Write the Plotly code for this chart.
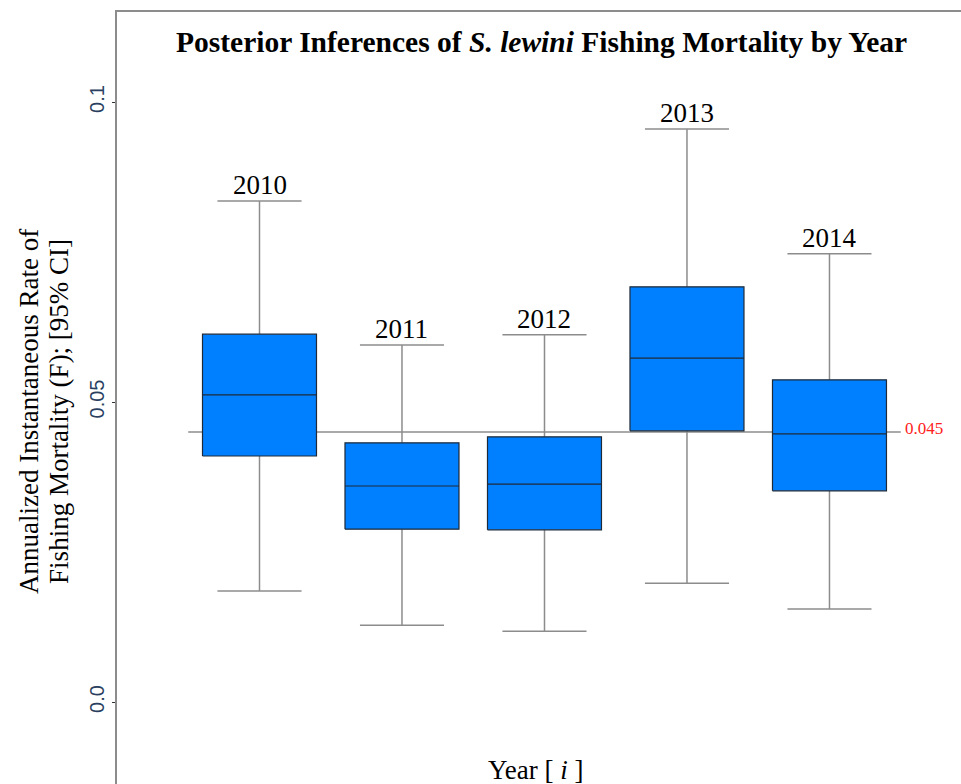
import plotly.graph_objects as go

years = ["2010", "2011", "2012", "2013", "2014"]
lower = [0.0185, 0.0128, 0.0118, 0.0198, 0.0155]
q1 = [0.0410, 0.0288, 0.0287, 0.0452, 0.0352]
median = [0.0512, 0.0360, 0.0363, 0.0573, 0.0447]
q3 = [0.0613, 0.0432, 0.0442, 0.0692, 0.0537]
upper = [0.0835, 0.0595, 0.0612, 0.0955, 0.0747]
ref_value = 0.045

positions = list(range(1, len(years) + 1))
box_half = 0.4
cap_half = 0.295

SERIF = "Liberation Serif, Times New Roman, serif"
SANS = "Liberation Sans, Arial, sans-serif"
BLUE = "#0080ff"
GRAY = "#8c8c8c"
DARK = "#1e2a38"

fig = go.Figure()

# reference line (behind everything)
fig.add_trace(go.Scatter(
    x=[positions[0] - 0.5, positions[-1] + 0.5], y=[ref_value, ref_value],
    mode="lines", line=dict(color=GRAY, width=1.5), hoverinfo="skip", showlegend=False))

for p, lo, a, m, b, hi in zip(positions, lower, q1, median, q3, upper):
    # whiskers
    fig.add_trace(go.Scatter(
        x=[p, p, None, p, p], y=[b, hi, None, lo, a],
        mode="lines", line=dict(color=GRAY, width=1.5), hoverinfo="skip", showlegend=False))
    # caps
    fig.add_trace(go.Scatter(
        x=[p - cap_half, p + cap_half, None, p - cap_half, p + cap_half],
        y=[hi, hi, None, lo, lo],
        mode="lines", line=dict(color=GRAY, width=1.5), hoverinfo="skip", showlegend=False))
    # box
    fig.add_trace(go.Scatter(
        x=[p - box_half, p + box_half, p + box_half, p - box_half, p - box_half],
        y=[a, a, b, b, a],
        mode="lines", fill="toself", fillcolor=BLUE,
        line=dict(color=DARK, width=1.2), hoverinfo="skip", showlegend=False))
    # median
    fig.add_trace(go.Scatter(
        x=[p - box_half, p + box_half], y=[m, m],
        mode="lines", line=dict(color=DARK, width=1.2), hoverinfo="skip", showlegend=False))

annotations = []
for p, yr, hi in zip(positions, years, upper):
    annotations.append(dict(
        x=p, y=hi, xref="x", yref="y", text=yr, showarrow=False,
        yanchor="bottom", yshift=-1, font=dict(family=SERIF, size=27, color="black")))

annotations.append(dict(
    x=positions[-1] + 0.5, y=ref_value, xref="x", yref="y", text=f"{ref_value:.3f}",
    showarrow=False, xanchor="left", yanchor="middle", xshift=2, yshift=4,
    font=dict(family=SERIF, size=17, color="#ff2020")))

annotations.append(dict(
    x=0.503, y=0.961, xref="paper", yref="paper", showarrow=False,
    xanchor="center", yanchor="middle",
    text="<b>Posterior Inferences of <i>S. lewini</i> Fishing Mortality by Year</b>",
    font=dict(family=SERIF, size=29.5, color="black")))

annotations.append(dict(
    x=0.497, y=0.018, xref="paper", yref="paper", showarrow=False,
    xanchor="center", yanchor="middle",
    text="Year [ <i>i</i> ]", font=dict(family=SERIF, size=27, color="black")))

y_title_lines = ["Annualized Instantaneous Rate of", "Fishing Mortality (F); [95% CI]"]
for shift, line in zip([-88, -58], y_title_lines):
    annotations.append(dict(
        x=0, y=0.482, xref="paper", yref="paper", showarrow=False, textangle=-90,
        xanchor="center", yanchor="middle", xshift=shift,
        text=line, font=dict(family=SERIF, size=27, color="black")))

fig.update_layout(
    width=961, height=784,
    margin=dict(l=117, r=0, t=12, b=0),
    paper_bgcolor="white", plot_bgcolor="white",
    showlegend=False,
    annotations=annotations,
    xaxis=dict(range=[0, 5.923], side="top", showline=True, linecolor=GRAY, linewidth=1.5,
               showgrid=False, zeroline=False, showticklabels=False, ticks="",
               fixedrange=True),
    yaxis=dict(range=[-0.013667, 0.115], showline=True, linecolor=GRAY, linewidth=1.5,
               showgrid=False, zeroline=False, tickvals=[0.0, 0.05, 0.1],
               ticktext=["0.0", "0.05", "0.1"], ticks="outside", ticklen=3,
               tickcolor="#333333", tickangle=-90,
               tickfont=dict(family=SANS, size=20, color="#2a3f5f")),
)

fig.write_html(
    "out.html",
    config={"displayModeBar": False},
    post_script=(
        "document.body.style.margin='0';"
        "document.documentElement.style.overflow='hidden';"
        "document.body.style.overflow='hidden';"
    ),
)
